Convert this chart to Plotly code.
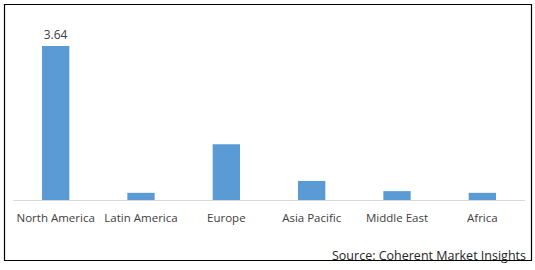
import plotly.graph_objects as go

regions = ["North America", "Latin America", "Europe", "Asia Pacific", "Middle East", "Africa"]
values = [3.64, 0.17, 1.32, 0.45, 0.21, 0.17]
labels = ["3.64", "", "", "", "", ""]

W, H = 535, 270
ml, mr, mt, mb = 13, 10, 20, 70

fig = go.Figure(go.Bar(
    x=regions, y=values, width=0.32,
    marker=dict(color="#5b9bd5", line=dict(width=0)),
    text=labels, textposition="outside", cliponaxis=False,
    textfont=dict(family="Open Sans", size=12, color="#404040"),
))

pw = W - ml - mr
ph = H - mt - mb
def px(x):
    return (x - ml) / pw
def py(y):
    return (H - mb - y) / ph

fig.update_layout(
    width=W, height=H,
    margin=dict(l=ml, r=mr, t=mt, b=mb),
    paper_bgcolor="white", plot_bgcolor="white",
    showlegend=False,
    font=dict(family="Open Sans", size=12, color="#404040"),
    xaxis=dict(showline=True, linecolor="#d9d9d9", linewidth=1, ticks="",
               ticklabelstandoff=7,
               tickfont=dict(size=11.5, color="#404040"), showgrid=False),
    yaxis=dict(range=[0, 4.255], visible=False, showgrid=False),
    shapes=[dict(type="rect", xref="paper", yref="paper",
                 x0=px(4.5), x1=px(531.5), y0=py(4.5), y1=py(260.5),
                 line=dict(color="black", width=1.2), fillcolor="rgba(0,0,0,0)")],
    annotations=[dict(text="Source: Coherent Market Insights", xref="paper", yref="paper",
                      x=px(528), y=py(255), xanchor="right", yanchor="middle",
                      showarrow=False, font=dict(size=12.5, color="#262626"))],
)

fig.write_html("out.html")
